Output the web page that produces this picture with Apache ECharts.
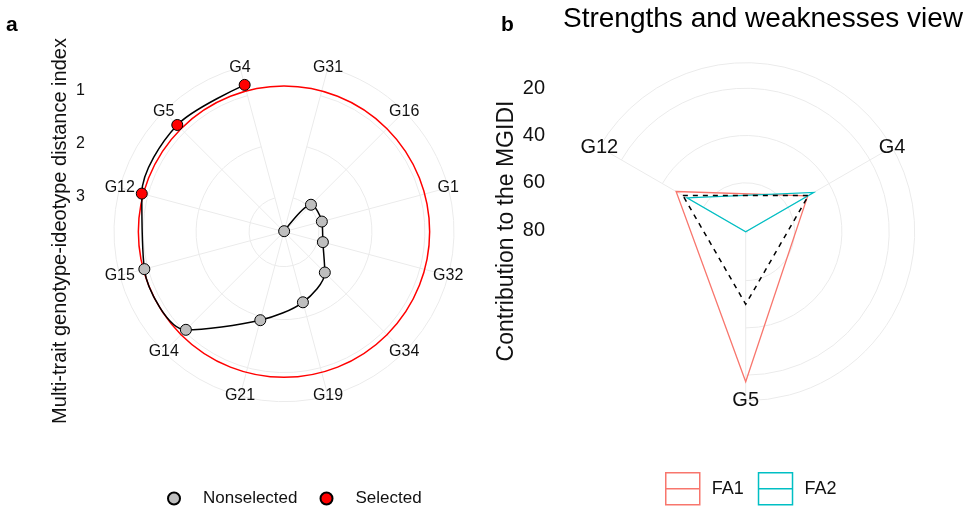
<!DOCTYPE html>
<html>
<head>
<meta charset="utf-8">
<script src="https://cdn.jsdelivr.net/npm/echarts@6/dist/echarts.min.js"></script>
<style>
html, body { margin: 0; padding: 0; background: #fff; }
#main { width: 977px; height: 506px; }
</style>
</head>
<body>
<div id="main"></div>
<script>
// panel a - genotypes in ranking order (counter-clockwise from the top)
const genotypes = ['G4', 'G5', 'G12', 'G15', 'G14', 'G21', 'G19', 'G34', 'G32', 'G1', 'G16', 'G31'];
const mgidi = [0.79, 0.81, 0.88, 0.93, 1.04, 1.93, 2.28, 2.57, 2.90, 2.92, 2.94, 3.65];
const selected = ['G4', 'G5', 'G12'];
const cutoff = 0.91;
const mgidiTicks = [1, 2, 3];

// panel b - contribution of each factor to the MGIDI
const selGenotypes = ['G12', 'G4', 'G5'];
const fa1 = [46.7, 50.4, 17.2];
const fa2 = [52.0, 47.5, 80.7];
const equalLine = [50, 50, 50];
const contribTicks = [20, 40, 60, 80];

const GRID = '#EBEBEB';
const TXT = '#111';
const FONT = '"Liberation Sans", Arial, sans-serif';
const A_MIN = 0.45, A_MAX = 3.66;
const B_MIN = 9.2, B_MAX = 80.7;

const points = genotypes.map((g, i) => [mgidi[i], g]);
const BOX = 'path://M0,0L34,0L34,32L0,32Z M0,16L34,16';

// closed polygon on the radar-like polar of panel b
function polygonSeries(name, values, style, z) {
    return {
        name: name, type: 'custom', coordinateSystem: 'polar', polarIndex: 1, z: z, silent: true,
        data: selGenotypes.map((g, i) => [values[i], g]),
        renderItem: function (params, api) {
            if (params.dataIndex !== 0) return;
            const pts = values.map((v, i) => api.coord([v, i]).slice(0, 2));
            return { type: 'polygon', shape: { points: pts }, style: Object.assign({ fill: 'none' }, style) };
        }
    };
}

let chart = echarts.init(document.getElementById('main'));
let option = {
    animation: false,
    textStyle: { fontFamily: FONT },
    title: [
        { text: 'a', left: 1, top: 10, textStyle: { fontSize: 21, fontWeight: 'bold', color: '#000', fontFamily: FONT } },
        { text: 'b', left: 496, top: 10, textStyle: { fontSize: 21, fontWeight: 'bold', color: '#000', fontFamily: FONT } },
        { text: 'Strengths and weaknesses view', left: 558, top: 0, textStyle: { fontSize: 28, fontWeight: 'normal', color: '#000', fontFamily: FONT } }
    ],
    graphic: [
        { type: 'text', x: 60, y: 231, rotation: Math.PI / 2,
          style: { text: 'Multi-trait genotype-ideotype distance index', align: 'center', verticalAlign: 'middle', font: '20px ' + FONT, fill: TXT } },
        { type: 'text', x: 507, y: 231, rotation: Math.PI / 2,
          style: { text: 'Contribution to the MGIDI', align: 'center', verticalAlign: 'middle', font: '23px ' + FONT, fill: TXT } }
    ],
    legend: [
        {
            data: ['Nonselected', 'Selected'],
            left: 162, top: 485,
            icon: 'circle',
            itemWidth: 42, itemHeight: 12, itemGap: 22,
            textStyle: { fontSize: 17, color: TXT, fontFamily: FONT, padding: [0, 0, 0, 3] }
        },
        {
            data: [
                { name: 'FA1', icon: BOX, itemStyle: { color: 'transparent', borderColor: '#F8766D', borderWidth: 1.5 } },
                { name: 'FA2', icon: BOX, itemStyle: { color: 'transparent', borderColor: '#00BFC4', borderWidth: 1.5 } }
            ],
            left: 660, top: 467,
            itemWidth: 34, itemHeight: 32, itemGap: 14,
            textStyle: { fontSize: 18, color: TXT, fontFamily: FONT, padding: [0, 0, 0, 7] }
        }
    ],
    polar: [
        { center: [284, 231.7], radius: 170 },
        { center: [745.7, 231.7], radius: 169 }
    ],
    angleAxis: [
        {
            polarIndex: 0, type: 'category', data: genotypes, boundaryGap: false,
            startAngle: 105, clockwise: false,
            axisLine: { show: true, lineStyle: { color: GRID, width: 1 } },
            axisTick: { show: false }, axisLabel: { show: false },
            splitLine: { show: true, lineStyle: { color: GRID, width: 1 } }
        },
        {
            polarIndex: 1, type: 'category', data: selGenotypes, boundaryGap: false,
            startAngle: 150, clockwise: true,
            axisLine: { show: true, lineStyle: { color: GRID, width: 1 } },
            axisTick: { show: false }, axisLabel: { show: false },
            splitLine: { show: true, lineStyle: { color: GRID, width: 1 } }
        }
    ],
    radiusAxis: [
        {
            polarIndex: 0, type: 'value', inverse: true, min: A_MIN, max: A_MAX,
            axisLine: { show: false }, axisLabel: { show: false },
            axisTick: { show: false, customValues: mgidiTicks },
            splitLine: { show: true, lineStyle: { color: GRID, width: 1 } }
        },
        {
            polarIndex: 1, type: 'value', inverse: true, min: B_MIN, max: B_MAX,
            axisLine: { show: false }, axisLabel: { show: false },
            axisTick: { show: false, customValues: contribTicks },
            splitLine: { show: true, lineStyle: { color: GRID, width: 1 } }
        }
    ],
    // plain y axes only used to print the radial tick labels on the left
    grid: [
        { left: 88, top: 61.7, width: 1, height: 170, show: false },
        { left: 548, top: 62.7, width: 1, height: 169, show: false }
    ],
    xAxis: [
        { gridIndex: 0, type: 'value', show: false },
        { gridIndex: 1, type: 'value', show: false }
    ],
    yAxis: [
        {
            gridIndex: 0, type: 'value', inverse: true, min: A_MIN, max: A_MAX,
            axisLine: { show: false }, axisTick: { show: false }, splitLine: { show: false },
            axisLabel: { customValues: mgidiTicks, fontSize: 16, color: TXT, margin: 3, fontFamily: FONT }
        },
        {
            gridIndex: 1, type: 'value', inverse: true, min: B_MIN, max: B_MAX,
            axisLine: { show: false }, axisTick: { show: false }, splitLine: { show: false },
            axisLabel: { customValues: contribTicks, fontSize: 20, color: TXT, margin: 3, fontFamily: FONT }
        }
    ],
    series: [
        {
            // selection cutoff circle
            type: 'custom', coordinateSystem: 'polar', polarIndex: 0, silent: true, z: 2,
            data: [[cutoff, genotypes[0]]],
            renderItem: function (params, api) {
                const c = api.coord([api.value(0), api.value(1)]);
                return {
                    type: 'circle',
                    shape: { cx: params.coordSys.cx, cy: params.coordSys.cy, r: c[2] },
                    style: { fill: 'none', stroke: '#FF0000', lineWidth: 1.5 }
                };
            }
        },
        {
            type: 'line', coordinateSystem: 'polar', polarIndex: 0, z: 3, clip: false,
            data: points, smooth: 0.3, symbol: 'none',
            lineStyle: { color: '#000', width: 1.5 }
        },
        {
            name: 'Nonselected', type: 'scatter', coordinateSystem: 'polar', polarIndex: 0, z: 4,
            data: points.filter(d => !selected.includes(d[1])),
            symbol: 'circle', symbolSize: 11,
            itemStyle: { color: '#BEBEBE', borderColor: '#000', borderWidth: 1, opacity: 1 }
        },
        {
            name: 'Selected', type: 'scatter', coordinateSystem: 'polar', polarIndex: 0, z: 4,
            data: points.filter(d => selected.includes(d[1])),
            symbol: 'circle', symbolSize: 11,
            itemStyle: { color: '#FF0000', borderColor: '#000', borderWidth: 1, opacity: 1 }
        },
        {
            // genotype names sitting on the outer circle
            type: 'scatter', coordinateSystem: 'polar', polarIndex: 0, silent: true, z: 5,
            data: genotypes.map(g => [A_MIN, g]),
            symbolSize: 1, itemStyle: { color: 'transparent', opacity: 1 },
            label: { show: true, position: 'inside', formatter: p => p.value[1], fontSize: 16, color: TXT, fontFamily: FONT }
        },
        polygonSeries('FA1', fa1, { stroke: '#F8766D', lineWidth: 1.3 }, 3),
        polygonSeries('FA2', fa2, { stroke: '#00BFC4', lineWidth: 1.3 }, 3),
        polygonSeries('equal', equalLine, { stroke: '#000', lineWidth: 1.5, lineDash: [5, 5] }, 4),
        {
            type: 'scatter', coordinateSystem: 'polar', polarIndex: 1, silent: true, z: 5,
            data: selGenotypes.map(g => [B_MIN, g]),
            symbolSize: 1, itemStyle: { color: 'transparent', opacity: 1 },
            label: { show: true, position: 'inside', formatter: p => p.value[1], fontSize: 20, color: TXT, fontFamily: FONT }
        }
    ]
};
chart.setOption(option);
</script>
</body>
</html>
